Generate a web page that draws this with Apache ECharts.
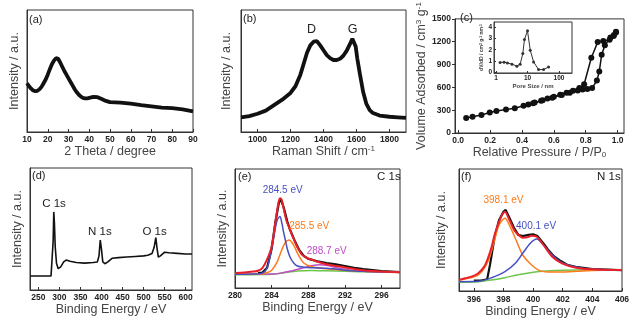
<!DOCTYPE html>
<html><head><meta charset="utf-8">
<script src="https://cdn.jsdelivr.net/npm/echarts@6/dist/echarts.min.js"></script>
<style>html,body{margin:0;padding:0;background:#fff}#c{width:643px;height:332px}</style>
</head><body><div id="c"></div>
<script>
// (a) XRD
const xrdTheta = [10,11,12,13,14,15,16,17,18,19,20,21,22,23,24,25,26,27,28,29,30,31,32,33,34,35,36,37,38,39,40,42,44,46,48,50,55,60,65,70,75,80,85,90];
const xrdI = [40,37.5,35.5,34,33.5,33.8,35,37,40,43,47,51.5,55.5,58.5,60.5,60,57,53.5,50,47,44,41,38,35,32.5,30.5,29,28,27.5,27.5,28,28.8,28.5,27,25.5,24.5,24,23.2,22,21,20,19.5,18.5,17];
// (b) Raman
const ramanX = [900,950,1000,1050,1100,1150,1200,1230,1260,1280,1300,1320,1340,1360,1380,1400,1420,1440,1460,1480,1500,1520,1540,1560,1575,1585,1595,1605,1620,1640,1660,1680,1700,1740,1800,1850,1900];
const ramanI = [12,13,15,17.5,22,26.5,32,37.5,47,56,65,71,74,74.5,71,67,63,60.5,59,59,60,62.5,66.5,72,76.5,77,70,60,48,33,23,18,15.5,13.5,12.5,12,11.5];
const ramanLabels = [["D",1328,84],["G",1577,84]];
// (c) N2 isotherm
const adsP = [0.05,0.09,0.146,0.198,0.24,0.30,0.355,0.41,0.47,0.53,0.59,0.65,0.70,0.75,0.78,0.81,0.84,0.87,0.885,0.90,0.92,0.955,0.977,0.99];
const adsV = [196,215,237,269,290,310,326,359,391,432,465,501,530,560,572,578,590,690,810,1030,1155,1255,1290,1320];
const desP = [0.99,0.975,0.95,0.91,0.875,0.835,0.79,0.76,0.72,0.68,0.64,0.60,0.56,0.52,0.48,0.44];
const desV = [1330,1275,1225,1210,1195,990,640,590,555,528,503,478,452,425,400,375];
const poreSize = [1.34,1.8,2.3,3.2,4.6,5.85,7.1,8.0,10,12.2,15.6,22.5,32.4,46.8];
const poreDv = [0.85,0.88,0.81,0.7,0.52,0.7,1.65,2.92,3.70,1.96,0.9,0.21,0.21,0.45];
// (d) XPS survey
const surveyBE = [230,270,280,283,285,286.5,288,290,293,297,303,310,316,325,340,360,380,390,394,397,400,403,408,415,425,440,460,480,500,510,520,525,529,532,535,540,550,560,580,600,615];
const surveyI = [11.5,11.5,11.6,11.8,40,64,55,35,22,17.5,19,23,24.5,23.5,22.5,22,22.5,23,28,41,33,23,21.5,23,26,26.5,27,27.5,28,28.5,30,35,43,34,27,28,31,30.5,30,29.5,29.5];
const surveyLabels = [["C 1s",287,71],["N 1s",396,47.8],["O 1s",526,47.8]];
// (e) C 1s
const eBlackX = [282.5,283,283.5,284,284.4,284.8,285,285.3,285.7,286,286.5,287,287.5,288,289,290,291,292,293,294,295,296,297,298];
const eBlackY = [12.5,13,17,33,55,72,74.5,68,56,49,40,32,27,24.5,22.5,21,19.8,18.5,17,15.8,15,14.2,13.8,13.4];
const eRedX = [280,281,282,282.5,283,283.5,284,284.4,284.7,284.9,285.1,285.3,285.6,285.9,286.3,286.8,287.3,287.9,288.5,289,290,291,292,293,294,295,296,298];
const eRedY = [12.6,13,13.8,14.5,17,24,35,55,70,75.5,74,67,57,51,43,34.5,28,25,23.5,22,20,18.5,17.3,16,15,14.3,13.8,13.2];
const eBlueX = [280,282,283,283.5,284,284.3,284.6,284.9,285.1,285.3,285.5,285.7,286,286.4,286.8,287.5,288.5,290,292,294,298];
const eBlueY = [11.5,11.7,12.5,17,33,46,57,60,55,47,40,33,26,21,18.5,17.5,17,16.5,15,14,13.2];
const eOrX = [280,283,283.5,284,284.6,285.1,285.5,285.9,286.4,286.9,287.5,288.3,289.4,291,294,298];
const eOrY = [11.5,12,13,15,22,32,38.4,40.3,36,28,21,18,16.5,15.5,14,13.2];
const eMgX = [280,284,285,286.1,287.5,288.5,289.3,290.1,291.5,293.4,295.5,298];
const eMgY = [11.5,11.7,12.5,14.3,17,19,19.5,18.8,16.5,14.5,13.5,13.2];
const eGrX = [280,283,284.3,285.3,286.8,288.3,290,292,295,298];
const eGrY = [11.2,11.3,11.8,12.8,14.3,14.8,14.5,14,13.5,13.2];
const eLabels = [["284.5 eV",285.2,82],["285.5 eV",288.1,52],["288.7 eV",290,31]];
// (f) N 1s
const fRedX = [395,395.4,395.9,396.3,396.7,396.95,397.2,397.4,397.65,397.9,398.1,398.4,398.7,398.9,399.3,399.6,399.9,400.25,400.7,401.3,401.95,402.9,404,406];
const fRedY = [9,10.4,12,14.5,20,26.8,36,45.9,55,62.3,65,58.2,50.5,47.3,43.7,44,45.3,44.5,37.7,28.1,22.7,19.1,17.8,17.2];
const fBlackX = [396,396.5,396.9,397.1,397.4,397.7,398,398.15,398.4,398.7,399,399.3,399.7,400,400.3,400.7,401,401.4,401.8,402.3,403,404,405,406];
const fBlackY = [8.5,8.5,9.5,22,44,58,65,66.4,60,52,46,45,46,46.5,45,39,34,28.5,25,21.5,19.5,18,17.5,17];
const fOrX = [395,395.4,396.3,396.95,397.4,397.7,398.1,398.4,398.9,399.3,399.9,400.5,401.3,402,403,404,406];
const fOrY = [9.2,9.8,13.1,24,41.8,54,59.6,54,40.4,29.5,21.3,16.5,15.5,15.6,16.2,16.8,17.2];
const fBlX = [395,396.3,397.2,398.1,398.8,399.3,399.8,400.25,400.7,401.3,401.95,402.9,404,406];
const fBlY = [7.6,7.9,10.9,15.8,22.7,30.9,39,42.6,37.7,29.5,23.2,19.7,17.8,17.2];
const fGrX = [395,396.3,397.2,398.1,398.9,399.8,400.9,403,406];
const fGrY = [7.1,7.6,9,10.9,13.1,15,16.4,17.2,17.2];
const fLabels = [["398.1 eV",398,74],["400.1 eV",400.2,53.3]];
// tick values
const ticksA = [10,20,30,40,50,60,70,80,90];
const ticksB = [1000,1200,1400,1600,1800];
const ticksC = [0,0.2,0.4,0.6,0.8,1.0];
const ticksCy = [0,300,600,900,1200,1500];
const ticksInsetX = [1,10,100];
const ticksInsetY = [0,1,2,3,4];
const ticksD = [250,300,350,400,450,500,550,600];
const ticksE = [280,284,288,292,296];
const ticksF = [396,398,400,402,404,406];

const FONT = '"Liberation Sans", Arial, Helvetica, sans-serif';
const RED='#e8202a', BLUE='#4650c0', ORANGE='#ff7a1a', MAG='#c04cc8', GREEN='#6cc64a', BLACK='#111';
const pairs = (xs, ys) => xs.map((x,i)=>[x, ys[i]]);

function nameStyle(fs, extra){
  const base = {fontSize: fs, color:'#444', fontFamily: FONT};
  return Object.assign({}, base, {rich:{
    n: Object.assign({}, base),
    s: Object.assign({}, base, {fontSize: fs*0.65, verticalAlign:'top'}),
    b: Object.assign({}, base, {fontSize: fs*0.65, verticalAlign:'bottom'})
  }}, extra||{});
}
function xAxisOf(g, min, max, ticks, name, nameGap, margin, fmt, extra){
  return Object.assign({
    gridIndex:g, type:'value', min:min, max:max,
    splitLine:{show:false},
    axisLine:{show:true, onZero:false, lineStyle:{color:'#333', width:1}},
    axisTick:{show:true, inside:true, length:3, customValues:ticks, lineStyle:{color:'#333'}},
    axisLabel:{show:true, customValues:ticks, fontSize:8.5, fontWeight:'bold', color:'#222', fontFamily:FONT, margin:margin,
      formatter: fmt || (v=>String(v))},
    name:name, nameLocation:'middle', nameGap:nameGap, nameTextStyle:nameStyle(12.5)
  }, extra||{});
}
function yHidden(g, name, nameGap){
  return {gridIndex:g, type:'value', min:0, max:100,
    splitLine:{show:false},
    axisLine:{show:true, onZero:false, lineStyle:{color:'#333', width:1}},
    axisTick:{show:false}, axisLabel:{show:false},
    name:name, nameLocation:'middle', nameGap:nameGap, nameTextStyle:nameStyle(12.5)};
}
function lbl(text, left, top, fs, color){
  return {text:text, left:left, top:top, padding:0, textStyle:{fontSize:fs, fontWeight:'normal', color:color||'#222', fontFamily:FONT}};
}
function mp(list, color, fs){
  return {symbol:'rect', symbolSize:1, itemStyle:{color:'rgba(0,0,0,0)'}, animation:false,
    label:{show:true, position:'inside', color:color, fontSize:fs, fontFamily:FONT, formatter:p=>p.name},
    data:list.map(l=>({name:l[0], coord:[l[1], l[2]]}))};
}
function line(xi, xs, ys, color, width, extra){
  return Object.assign({type:'line', xAxisIndex:xi, yAxisIndex:xi, data:pairs(xs,ys), showSymbol:false, symbol:'none',
    lineStyle:{color:color, width:width}, itemStyle:{color:color}, silent:true}, extra||{});
}

const gridBase = {show:true, borderColor:'#333', borderWidth:1, containLabel:false};
const option = {
  animation:false,
  backgroundColor:'#fff',
  title:[
    lbl('(a)',29,14,11), lbl('(b)',243,13,11), lbl('(c)',460,12,11),
    lbl('(d)',32,170,11), lbl('(e)',238,171,11), lbl('(f)',461,171,11),
    lbl('C 1s',377,171,11.5), lbl('N 1s',597,171,11.5)
  ],
  grid:[
    Object.assign({left:27, top:10, width:166, height:122}, gridBase),
    Object.assign({left:241, top:10, width:165, height:122}, gridBase),
    Object.assign({left:455, top:10, width:169, height:123}, gridBase),
    Object.assign({left:494, top:22, width:78, height:51}, gridBase),
    Object.assign({left:30, top:168, width:162, height:122}, gridBase),
    Object.assign({left:235, top:169, width:165, height:119}, gridBase),
    Object.assign({left:459, top:169, width:163, height:122}, gridBase)
  ],
  xAxis:[
    xAxisOf(0, 10, 90, ticksA, '2 Theta / degree', 11, 3),
    xAxisOf(1, 900, 1900, ticksB, '{n|Raman Shift / cm}{s|-1}', 11, 3),
    xAxisOf(2, -0.02, 1.04, ticksC, '{n|Relative Pressure / P/P}{b|0}', 12, 3, v=>v.toFixed(1)),
    {gridIndex:3, type:'log', logBase:10, min:0.86, max:260,
      splitLine:{show:false}, minorTick:{show:false},
      axisLine:{show:true, onZero:false, lineStyle:{color:'#333', width:0.8}},
      axisTick:{show:true, inside:true, length:2, customValues:ticksInsetX, lineStyle:{color:'#333'}},
      axisLabel:{show:true, customValues:ticksInsetX, fontSize:6.5, fontWeight:'bold', color:'#222', fontFamily:FONT, margin:2},
      name:'Pore Size / nm', nameLocation:'middle', nameGap:8,
      nameTextStyle:{fontSize:6, fontWeight:'bold', color:'#444', fontFamily:FONT}},
    xAxisOf(4, 230, 615, ticksD, 'Binding Energy / eV', 11, 3),
    xAxisOf(5, 280, 298, ticksE, 'Binding Energy / eV', 12, 3.5),
    xAxisOf(6, 395, 406, ticksF, 'Binding Energy / eV', 14, 4)
  ],
  yAxis:[
    yHidden(0, 'Intensity / a.u.', 6),
    yHidden(1, 'Intensity / a.u.', 8),
    {gridIndex:2, type:'value', min:0, max:1500,
      splitLine:{show:false},
      axisLine:{show:true, onZero:false, lineStyle:{color:'#333', width:1}},
      axisTick:{show:true, inside:false, length:3, customValues:ticksCy, lineStyle:{color:'#333'}},
      axisLabel:{show:true, customValues:ticksCy, fontSize:8.5, fontWeight:'bold', color:'#222', fontFamily:FONT, margin:4,
        formatter: v=>String(v)},
      name:'{n|Volume Adsorbed / cm}{s|3}{n| g}{s|-1}', nameLocation:'middle', nameGap:19, nameTextStyle:nameStyle(12.5)},
    {gridIndex:3, type:'value', min:-0.1, max:4.5,
      splitLine:{show:false},
      axisLine:{show:true, onZero:false, lineStyle:{color:'#333', width:0.8}},
      axisTick:{show:true, inside:true, length:2, customValues:ticksInsetY, lineStyle:{color:'#333'}},
      axisLabel:{show:true, customValues:ticksInsetY, fontSize:6.5, fontWeight:'bold', color:'#222', fontFamily:FONT, margin:2},
      name:'{n|dV/dD / cm}{s|3}{n| g}{s|-1}{n| nm}{s|-1}', nameLocation:'middle', nameGap:8,
      nameTextStyle:nameStyle(5, {fontWeight:'bold'})},
    yHidden(4, 'Intensity / a.u.', 6),
    yHidden(5, 'Intensity / a.u.', 5.5),
    yHidden(6, 'Intensity / a.u.', 11)
  ],
  series:[
    line(0, xrdTheta, xrdI, BLACK, 3.8),
    line(1, ramanX, ramanI, BLACK, 3.8, {markPoint: mp(ramanLabels, '#222', 12.5)}),
    line(2, adsP, adsV, BLACK, 1.5, {showSymbol:true, symbol:'circle', symbolSize:6}),
    line(2, desP, desV, BLACK, 1.5, {showSymbol:true, symbol:'circle', symbolSize:6}),
    line(3, poreSize, poreDv, '#333', 1, {showSymbol:true, symbol:'circle', symbolSize:3}),
    line(4, surveyBE, surveyI, BLACK, 1.6, {markPoint: mp(surveyLabels, '#222', 11.5)}),
    line(5, eBlackX, eBlackY, BLACK, 2.2),
    line(5, eGrX, eGrY, GREEN, 1.5, {smooth:0.3}),
    line(5, eMgX, eMgY, MAG, 1.5, {smooth:0.3, markPoint: mp([eLabels[2]], MAG, 10)}),
    line(5, eOrX, eOrY, ORANGE, 1.5, {smooth:0.3, markPoint: mp([eLabels[1]], ORANGE, 10)}),
    line(5, eBlueX, eBlueY, BLUE, 1.5, {smooth:0.3, markPoint: mp([eLabels[0]], BLUE, 10)}),
    line(5, eRedX, eRedY, RED, 2, {smooth:0.3}),
    line(6, fBlackX, fBlackY, BLACK, 2.2),
    line(6, fGrX, fGrY, GREEN, 1.5, {smooth:0.3}),
    line(6, fOrX, fOrY, ORANGE, 1.5, {smooth:0.3, markPoint: mp([fLabels[0]], ORANGE, 10)}),
    line(6, fBlX, fBlY, BLUE, 1.5, {smooth:0.3, markPoint: mp([fLabels[1]], BLUE, 10)}),
    line(6, fRedX, fRedY, RED, 2, {smooth:0.3})
  ]
};
const chart = echarts.init(document.getElementById('c'), null, {renderer:'canvas'});
chart.setOption(option);
</script>
</body></html>
